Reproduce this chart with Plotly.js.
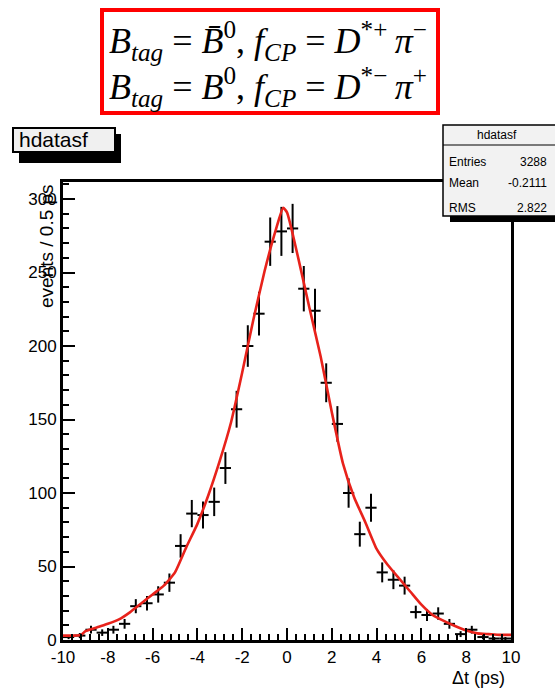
<!DOCTYPE html>
<html>
<head>
<meta charset="utf-8">
<script src="https://cdn.plot.ly/plotly-3.0.1.min.js"></script>
<style>html,body{margin:0;padding:0;background:#fff;}</style>
</head>
<body>
<div id="chart" style="width:555px;height:688px;"></div>
<script>
// Δt distribution of tagged events, 0.5 ps bins
const binCenters = [-9.75, -9.25, -8.75, -8.25, -7.75, -7.25, -6.75, -6.25, -5.75, -5.25,
                    -4.75, -4.25, -3.75, -3.25, -2.75, -2.25, -1.75, -1.25, -0.75, -0.25,
                     0.25,  0.75,  1.25,  1.75,  2.25,  2.75,  3.25,  3.75,  4.25,  4.75,
                     5.25,  5.75,  6.25,  6.75,  7.25,  7.75,  8.25,  8.75,  9.25,  9.75];
const eventCounts = [2, 3, 7, 5, 7, 11, 23, 25, 31, 39,
                     64, 86, 85, 94, 117, 157, 200, 222, 271, 278,
                     280, 239, 224, 175, 147, 100, 72, 90, 46, 41,
                     37, 19, 17, 18, 11, 4, 7, 2, 1, 1];
const binHalfWidth = 0.25;

// fitted Δt curve
const fitT = [-10, -9.2, -9.0, -8.4, -8.0, -7.5, -7.0, -6.5, -6.0, -5.5, -5.0, -4.5, -4.0, -3.5,
              -3.0, -2.5, -2.0, -1.5, -1.0, -0.5, -0.17, 0.0, 0.5, 1.0, 1.5, 2.0, 2.5, 3.0,
              3.5, 4.0, 4.5, 5.0, 5.5, 6.0, 6.5, 7.0, 7.5, 8.0, 8.5, 9.0, 9.5, 10];
const fitEvents = [3, 3.4, 6, 9, 11, 14, 19, 25, 31, 37, 46, 63, 79, 99,
                   122, 148, 182, 218, 251, 279, 294, 291, 260, 226, 193, 155, 120, 97,
                   80, 62, 51, 42, 33, 24, 17, 13, 9.5, 6.5, 4.5, 4, 3.5, 3.5];

const xTickVals = [-10, -8, -6, -4, -2, 0, 2, 4, 6, 8, 10];
const xTickText = ['-10', '-8', '-6', '-4', '-2', '0', '2', '4', '6', '8', '10'];
const yTickVals = [0, 50, 100, 150, 200, 250, 300];
const yTickText = ['0', '50', '100', '150', '200', '250', '300'];

const histName = 'hdatasf';
const statLabels = ['Entries', 'Mean', 'RMS'];
const statValues = ['3288', '-0.2111', '2.822'];
const titleLines = [
  '<i>B</i><sub><i>tag</i></sub> = <i>B\u0304</i><sup>0</sup>, <i>f</i><sub><i>CP</i></sub> = <i>D</i><sup>*+</sup>\u2009<i>π</i><sup>−</sup>',
  '<i>B</i><sub><i>tag</i></sub> = <i>B</i><sup>0</sup>, <i>f</i><sub><i>CP</i></sub> = <i>D</i><sup>*−</sup>\u2009<i>π</i><sup>+</sup>'
];

// page geometry (pixels) of the plotting frame
const W = 555, H = 688, L = 63, R = 511, T = 182, B = 640;
const px = x => (x - L) / (R - L);
const py = y => (B - y) / (B - T);

const sans = 'Liberation Sans, Arial, sans-serif';
const narrow = 'Liberation Sans Narrow, Liberation Sans, Arial, sans-serif';
const serif = 'Liberation Serif, Times New Roman, serif';

const dataTrace = {
  x: binCenters, y: eventCounts, type: 'scatter', mode: 'markers',
  marker: {size: 2, color: 'rgba(0,0,0,0)', line: {width: 0}},
  error_y: {type: 'data', array: eventCounts.map(Math.sqrt), width: 0, thickness: 2, color: 'black'},
  error_x: {type: 'constant', value: binHalfWidth, width: 0, thickness: 2, color: 'black'},
  hoverinfo: 'skip', showlegend: false
};
const fitTrace = {
  x: fitT, y: fitEvents, type: 'scatter', mode: 'lines',
  line: {color: '#e8221b', width: 2.6, shape: 'spline', smoothing: 0.5},
  hoverinfo: 'skip', showlegend: false
};

const shapes = [
  // formula box
  {type: 'rect', xref: 'paper', yref: 'paper', x0: px(102), x1: px(438), y0: py(113), y1: py(10),
   line: {color: '#ff0000', width: 4}, fillcolor: 'rgba(0,0,0,0)', layer: 'above'},
  // histogram title box with shadow
  {type: 'rect', xref: 'paper', yref: 'paper', x0: px(19), x1: px(121), y0: py(163), y1: py(134),
   line: {width: 0}, fillcolor: 'black', layer: 'above'},
  {type: 'rect', xref: 'paper', yref: 'paper', x0: px(13), x1: px(115), y0: py(152), y1: py(128),
   line: {color: 'black', width: 2}, fillcolor: '#f0f0f0', layer: 'above'},
  // statistics box with shadow
  {type: 'rect', xref: 'paper', yref: 'paper', x0: px(450), x1: px(565), y0: py(222), y1: py(131),
   line: {width: 0}, fillcolor: 'black', layer: 'above'},
  {type: 'rect', xref: 'paper', yref: 'paper', x0: px(443), x1: px(562), y0: py(216), y1: py(125),
   line: {color: 'black', width: 1.5}, fillcolor: '#f2f2f2', layer: 'above'},
  {type: 'line', xref: 'paper', yref: 'paper', x0: px(443), x1: px(562), y0: py(145), y1: py(145),
   line: {color: 'black', width: 1.2}, layer: 'above'}
];

const annotations = [];
const titleY = [41, 87];
titleLines.forEach((t, i) => annotations.push({
  xref: 'paper', yref: 'paper', x: px(107), y: py(titleY[i]), xanchor: 'left', yanchor: 'middle',
  text: t, showarrow: false, font: {family: serif, size: 36, color: 'black'}
}));
annotations.push({xref: 'paper', yref: 'paper', x: px(17), y: py(140), xanchor: 'left', yanchor: 'middle',
  text: histName, showarrow: false, font: {family: sans, size: 21, color: 'black'}});
annotations.push({xref: 'paper', yref: 'paper', x: px(497), y: py(135), xanchor: 'center', yanchor: 'middle',
  text: histName, showarrow: false, font: {family: narrow, size: 12, color: 'black'}});
const statY = [162, 183, 208];
statLabels.forEach((s, i) => {
  annotations.push({xref: 'paper', yref: 'paper', x: px(447), y: py(statY[i]), xanchor: 'left', yanchor: 'middle',
    text: s, showarrow: false, font: {family: narrow, size: 12, color: 'black'}});
  annotations.push({xref: 'paper', yref: 'paper', x: px(549), y: py(statY[i]), xanchor: 'right', yanchor: 'middle',
    text: statValues[i], showarrow: false, font: {family: narrow, size: 12, color: 'black'}});
});
annotations.push({xref: 'paper', yref: 'paper', x: px(507), y: py(678), xanchor: 'right', yanchor: 'middle',
  text: 'Δt (ps)', showarrow: false, font: {family: sans, size: 18, color: 'black'}});
annotations.push({xref: 'paper', yref: 'paper', x: px(46), y: py(182), xanchor: 'center', yanchor: 'top',
  text: 'events / 0.5 ps', textangle: -90, showarrow: false, font: {family: sans, size: 19, color: 'black'}});

const axisCommon = {
  showline: true, linecolor: 'black', linewidth: 3, mirror: true,
  ticks: 'inside', tickcolor: 'black', tickwidth: 2, ticklen: 12,
  showgrid: false, zeroline: false, fixedrange: true,
  tickfont: {family: sans, size: 17, color: 'black'}
};

const layout = {
  width: W, height: H,
  margin: {l: L, r: W - R, t: T, b: H - B, pad: 0},
  paper_bgcolor: 'white', plot_bgcolor: 'white',
  xaxis: Object.assign({}, axisCommon, {
    range: [-10, 10], tickmode: 'array', tickvals: xTickVals, ticktext: xTickText,
    minor: {tickmode: 'linear', tick0: -10, dtick: 0.4, ticks: 'inside', ticklen: 6, tickwidth: 2, tickcolor: 'black', showgrid: false}
  }),
  yaxis: Object.assign({}, axisCommon, {
    range: [0, 311.6], tickmode: 'array', tickvals: yTickVals, ticktext: yTickText,
    minor: {tickmode: 'linear', tick0: 0, dtick: 10, ticks: 'inside', ticklen: 6, tickwidth: 2, tickcolor: 'black', showgrid: false}
  }),
  shapes: shapes,
  annotations: annotations,
  showlegend: false
};

Plotly.newPlot('chart', [dataTrace, fitTrace], layout, {staticPlot: true, displayModeBar: false});
</script>
</body>
</html>
